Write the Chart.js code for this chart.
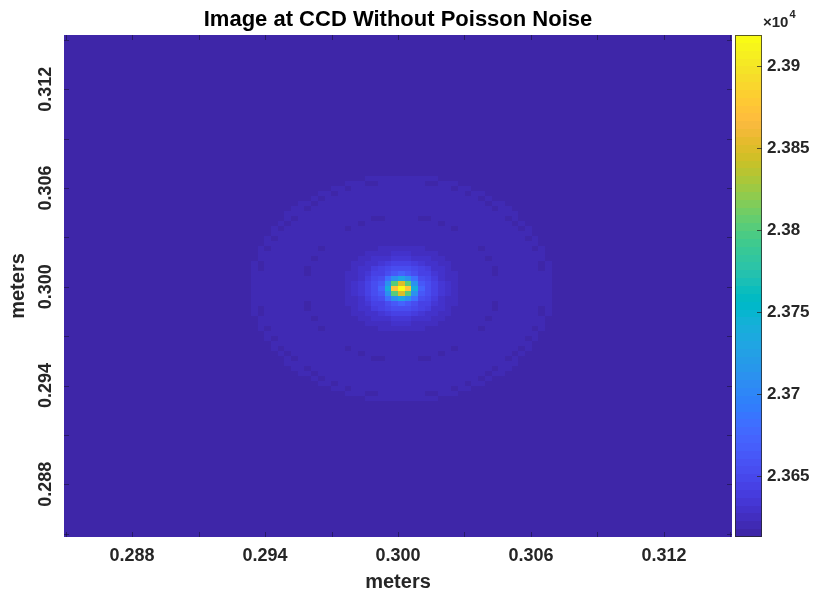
<!DOCTYPE html>
<html>
<head>
<meta charset="utf-8">
<title>Image at CCD Without Poisson Noise</title>
<script src="https://cdn.jsdelivr.net/npm/chart.js@4.4.1/dist/chart.umd.min.js"></script>
<style>
  body { margin: 0; background: #fff; }
  #wrap { width: 814px; height: 594px; }
</style>
</head>
<body>
<div id="wrap"><canvas id="ccd" width="814" height="594"></canvas></div>
<script>
// CCD frame: 100 x 100 pixels, limits in meters
var gridSize = 100;
var xLimits = [0.28493, 0.31507];
var yLimits = [0.28480, 0.31530];
var peakCell = [50, 49];   // column from left, row from bottom

var xTicks = [0.288, 0.294, 0.300, 0.306, 0.312];
var yTicks = [0.288, 0.294, 0.300, 0.306, 0.312];
var cbTicks = [23650, 23700, 23750, 23800, 23850, 23900];

var background = 23613;

// counts in the 7x7 pixels round the peak, top row first
var core = [
  [23643, 23652, 23665, 23672, 23665, 23652, 23643],
  [23652, 23680, 23710, 23730, 23710, 23680, 23652],
  [23665, 23710, 23800, 23850, 23800, 23710, 23665],
  [23675, 23740, 23875, 23919, 23875, 23740, 23675],
  [23665, 23710, 23800, 23850, 23800, 23710, 23665],
  [23652, 23680, 23710, 23730, 23710, 23680, 23652],
  [23643, 23652, 23665, 23672, 23665, 23652, 23643]
];

// counts further out, by distance from the peak (pixels, half-pixel steps)
var ringRadii = [
  4, 4.5, 5, 5.5, 6, 6.5, 7, 7.5, 8, 8.5,
  9, 9.5, 10, 10.5, 11, 11.5, 12, 12.5, 13, 13.5,
  14, 14.5, 15, 15.5, 16, 16.5, 17, 17.5, 18, 18.5,
  19, 19.5, 20, 20.5, 21, 21.5, 22, 22.5
];
var ringValues = [
  23655, 23648, 23643, 23639, 23635, 23632, 23629, 23627, 23625, 23623,
  23622, 23621, 23621, 23621, 23621, 23621, 23621, 23621, 23621, 23621,
  23619, 23614, 23619, 23620, 23620, 23620, 23620, 23620, 23620, 23620,
  23620, 23620, 23620, 23620, 23619, 23614, 23618, 23618
];

// MATLAB parula, 64 levels
var parula = [
  [0.2422,0.1504,0.6603],[0.2504,0.1650,0.7076],[0.2578,0.1818,0.7511],[0.2647,0.1978,0.7952],
  [0.2706,0.2147,0.8364],[0.2751,0.2342,0.8710],[0.2783,0.2559,0.8991],[0.2803,0.2782,0.9221],
  [0.2813,0.3006,0.9414],[0.2810,0.3228,0.9579],[0.2795,0.3447,0.9717],[0.2760,0.3667,0.9829],
  [0.2699,0.3892,0.9906],[0.2602,0.4123,0.9952],[0.2440,0.4358,0.9988],[0.2206,0.4603,0.9973],
  [0.1963,0.4847,0.9892],[0.1834,0.5074,0.9798],[0.1786,0.5289,0.9682],[0.1764,0.5499,0.9520],
  [0.1687,0.5703,0.9359],[0.1540,0.5902,0.9218],[0.1460,0.6091,0.9079],[0.1380,0.6276,0.8973],
  [0.1248,0.6459,0.8883],[0.1113,0.6635,0.8763],[0.0952,0.6798,0.8598],[0.0689,0.6948,0.8394],
  [0.0297,0.7082,0.8163],[0.0036,0.7203,0.7917],[0.0067,0.7312,0.7660],[0.0433,0.7411,0.7394],
  [0.0964,0.7500,0.7120],[0.1408,0.7584,0.6842],[0.1717,0.7670,0.6554],[0.1938,0.7758,0.6251],
  [0.2161,0.7843,0.5923],[0.2470,0.7918,0.5567],[0.2906,0.7973,0.5188],[0.3406,0.8008,0.4789],
  [0.3909,0.8029,0.4354],[0.4456,0.8024,0.3909],[0.5044,0.7993,0.3480],[0.5616,0.7942,0.3045],
  [0.6174,0.7876,0.2612],[0.6720,0.7793,0.2227],[0.7242,0.7698,0.1910],[0.7738,0.7598,0.1646],
  [0.8203,0.7498,0.1535],[0.8634,0.7406,0.1596],[0.9035,0.7330,0.1774],[0.9393,0.7288,0.2100],
  [0.9728,0.7298,0.2394],[0.9956,0.7434,0.2371],[0.9970,0.7659,0.2199],[0.9952,0.7893,0.2028],
  [0.9892,0.8136,0.1885],[0.9786,0.8386,0.1766],[0.9676,0.8639,0.1643],[0.9610,0.8890,0.1537],
  [0.9597,0.9135,0.1423],[0.9628,0.9373,0.1265],[0.9691,0.9606,0.1064],[0.9769,0.9839,0.0805]
].map(function (c) {
  return 'rgb(' + Math.round(c[0] * 255) + ',' + Math.round(c[1] * 255) + ',' + Math.round(c[2] * 255) + ')';
});

var cellW = (xLimits[1] - xLimits[0]) / gridSize;
var cellH = (yLimits[1] - yLimits[0]) / gridSize;

var cells = [];
for (var j = 0; j < gridSize; j++) {
  for (var i = 0; i < gridSize; i++) {
    var ci = i - peakCell[0], cj = j - peakCell[1], v;
    if (Math.abs(ci) <= 3 && Math.abs(cj) <= 3) {
      v = core[3 - cj][ci + 3];
    } else {
      var k = ringRadii.indexOf(Math.round(Math.hypot(ci, cj) * 2) / 2);
      v = k < 0 ? background : ringValues[k];
    }
    cells.push({ x: xLimits[0] + (i + 0.5) * cellW, y: yLimits[0] + (j + 0.5) * cellH, v: v });
  }
}

// colour limits follow the data, like imagesc
var vMin = Infinity, vMax = -Infinity;
cells.forEach(function (c) { vMin = Math.min(vMin, c.v); vMax = Math.max(vMax, c.v); });

function colorOf(v) {
  var k = Math.floor((v - vMin) / (vMax - vMin) * parula.length);
  return parula[Math.max(0, Math.min(parula.length - 1, k))];
}

var tickInk = 'rgba(20,16,50,0.55)';

function minorTicks(ticks) {
  var half = (ticks[1] - ticks[0]) / 2, out = [ticks[0] - half];
  ticks.forEach(function (t) { out.push(t + half); });
  return out;
}

var heatmap = {
  id: 'heatmap',
  beforeDatasetsDraw: function (chart) {
    var ctx = chart.ctx, xs = chart.scales.x, ys = chart.scales.y, a = chart.chartArea;
    ctx.save();
    ctx.beginPath();
    ctx.rect(a.left, a.top, a.right - a.left, a.bottom - a.top);
    ctx.clip();
    chart.data.datasets[0].data.forEach(function (c) {
      var x0 = Math.round(xs.getPixelForValue(c.x - cellW / 2));
      var x1 = Math.round(xs.getPixelForValue(c.x + cellW / 2));
      var y0 = Math.round(ys.getPixelForValue(c.y + cellH / 2));
      var y1 = Math.round(ys.getPixelForValue(c.y - cellH / 2));
      ctx.fillStyle = colorOf(c.v);
      ctx.fillRect(x0, y0, x1 - x0, y1 - y0);
    });

    // tick marks on all four sides, inside the box
    ctx.strokeStyle = tickInk;
    ctx.lineWidth = 1;
    ctx.beginPath();
    xTicks.concat(minorTicks(xTicks)).forEach(function (t) {
      var px = Math.round(xs.getPixelForValue(t)) + 0.5;
      ctx.moveTo(px, a.bottom); ctx.lineTo(px, a.bottom - 5);
      ctx.moveTo(px, a.top); ctx.lineTo(px, a.top + 5);
    });
    yTicks.concat(minorTicks(yTicks)).forEach(function (t) {
      var py = Math.round(ys.getPixelForValue(t)) + 0.5;
      ctx.moveTo(a.left, py); ctx.lineTo(a.left + 5, py);
      ctx.moveTo(a.right, py); ctx.lineTo(a.right - 5, py);
    });
    ctx.stroke();
    ctx.restore();
  },
  afterDraw: function (chart) {
    var ctx = chart.ctx, cb = chart.scales.cb, a = chart.chartArea;
    var left = a.right + 3, right = a.right + 30;
    var n = parula.length, step = (vMax - vMin) / n;
    ctx.save();
    for (var k = 0; k < n; k++) {
      var yTop = Math.round(cb.getPixelForValue(vMin + (k + 1) * step));
      var yBot = Math.round(cb.getPixelForValue(vMin + k * step));
      ctx.fillStyle = parula[k];
      ctx.fillRect(left, yTop, right - left, yBot - yTop);
    }
    ctx.strokeStyle = 'rgba(38,38,38,0.75)';
    ctx.lineWidth = 1;
    ctx.strokeRect(left + 0.5, a.top + 0.5, right - left - 1, a.bottom - a.top - 1);
    ctx.beginPath();
    cbTicks.forEach(function (t) {
      var py = Math.round(cb.getPixelForValue(t)) + 0.5;
      ctx.moveTo(right, py); ctx.lineTo(right - 5, py);
    });
    ctx.stroke();

    // exponent above the colour bar
    ctx.fillStyle = '#262626';
    ctx.textBaseline = 'alphabetic';
    ctx.font = 'bold 15px "Liberation Sans", Arial, sans-serif';
    ctx.fillText('\u00d710', 763, 27);
    var w = ctx.measureText('\u00d710').width;
    ctx.font = 'bold 11px "Liberation Sans", Arial, sans-serif';
    ctx.fillText('4', 763 + w + 1, 18);
    ctx.restore();
  }
};

Chart.defaults.font.family = '"Liberation Sans", Arial, sans-serif';
Chart.defaults.color = '#262626';

new Chart(document.getElementById('ccd'), {
  type: 'scatter',
  data: {
    datasets: [{
      data: cells,
      pointRadius: 0,
      pointHoverRadius: 0
    }]
  },
  options: {
    responsive: false,
    animation: false,
    events: [],
    layout: { padding: 0 },
    plugins: {
      legend: { display: false },
      tooltip: { enabled: false },
      title: {
        display: true,
        text: 'Image at CCD Without Poisson Noise',
        fullSize: false,
        color: '#000',
        font: { size: 22, weight: 'bold' },
        padding: { top: 7, bottom: 1.6 }
      }
    },
    scales: {
      x: {
        type: 'linear',
        min: xLimits[0],
        max: xLimits[1],
        grid: { display: false, drawTicks: false },
        border: { display: false },
        afterBuildTicks: function (s) { s.ticks = xTicks.map(function (t) { return { value: t }; }); },
        afterFit: function (s) { s.height = 57; s.paddingLeft = 0; s.paddingRight = 0; },
        ticks: {
          autoSkip: false,
          maxRotation: 0,
          padding: 8,
          font: { size: 18, weight: 'bold' },
          callback: function (v) { return v.toFixed(3); }
        },
        title: {
          display: true,
          text: 'meters',
          font: { size: 20, weight: 'bold' },
          padding: { top: 0, bottom: 0 }
        }
      },
      y: {
        type: 'linear',
        position: 'left',
        min: yLimits[0],
        max: yLimits[1],
        grid: { display: false, drawTicks: false },
        border: { display: false },
        afterBuildTicks: function (s) { s.ticks = yTicks.map(function (t) { return { value: t }; }); },
        afterFit: function (s) { s.width = 64; s.paddingTop = 0; s.paddingBottom = 0; },
        ticks: {
          autoSkip: false,
          minRotation: 90,
          maxRotation: 90,
          crossAlign: 'center',
          padding: -4.5,
          font: { size: 18, weight: 'bold' },
          callback: function (v) { return v.toFixed(3); }
        },
        title: {
          display: true,
          text: 'meters',
          font: { size: 20, weight: 'bold' },
          padding: { top: 6, bottom: 0 }
        }
      },
      cb: {
        type: 'linear',
        position: 'right',
        min: vMin,
        max: vMax,
        grid: { display: false, drawTicks: false },
        border: { display: false },
        afterBuildTicks: function (s) { s.ticks = cbTicks.map(function (t) { return { value: t }; }); },
        afterFit: function (s) { s.width = 82; s.paddingTop = 0; s.paddingBottom = 0; },
        ticks: {
          autoSkip: false,
          padding: 35,
          font: { size: 17, weight: 'bold' },
          callback: function (v) { return String(+(v / 1e4).toFixed(4)); }
        }
      }
    }
  },
  plugins: [heatmap]
});
</script>
</body>
</html>
